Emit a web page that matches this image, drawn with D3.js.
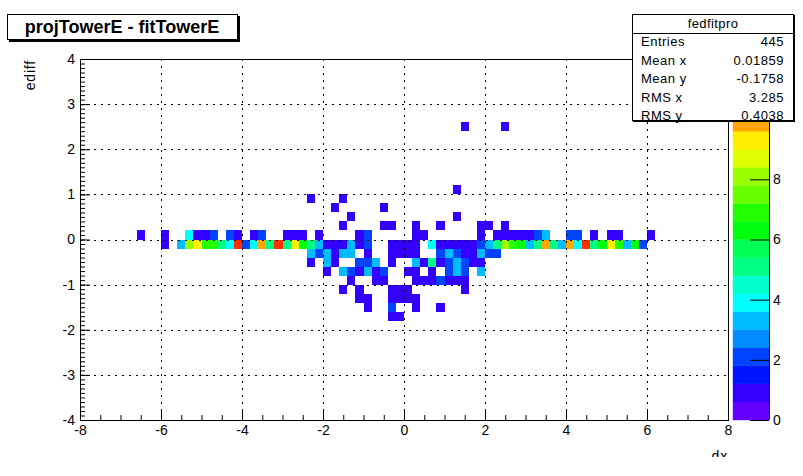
<!DOCTYPE html>
<html lang="en">
<head>
<meta charset="utf-8">
<title>projTowerE - fitTowerE</title>
<script src="https://cdn.jsdelivr.net/npm/d3@7"></script>
<style>
  body { margin: 0; background: #fff; }
  svg { display: block; font-family: "Liberation Sans", Arial, Helvetica, sans-serif; }
  .axis path.domain { display: none; }
  .axis line { stroke: #000; }
  .axis text { font-size: 14px; fill: #000; }
</style>
</head>
<body>
<script>
// ---- data (bin centres, bin width 0.2 x 0.2) ------------------------------
// sparse cells above the zero band: [x, y, count]
const upperCells = [
  [1.5, 2.5, 1], [2.5, 2.5, 1],
  [1.3, 1.1, 1],
  [-2.3, 0.9, 1], [-1.5, 0.9, 1],
  [-1.7, 0.7, 1], [-0.5, 0.7, 1],
  [-1.3, 0.5, 1], [1.3, 0.5, 1],
  [-1.5, 0.3, 1], [-0.5, 0.3, 1], [-0.3, 0.3, 1], [0.3, 0.3, 1],
  [0.9, 0.3, 1], [1.9, 0.3, 1], [2.1, 0.3, 1], [2.5, 0.3, 1]
];
// row 0 .. 0.2 : [x, count]
const rowAboveZero = [
  [-6.5, 1], [-5.9, 1], [-5.3, 4], [-5.1, 1], [-4.9, 1], [-4.7, 2], [-4.3, 2],
  [-4.1, 1], [-3.7, 1], [-3.5, 2], [-2.9, 1], [-2.7, 1], [-2.5, 1], [-2.1, 1],
  [-1.1, 1], [-0.9, 2], [0.3, 1], [0.5, 1], [1.9, 1], [2.3, 1], [2.5, 1],
  [2.7, 1], [2.9, 1], [3.1, 1], [3.3, 2], [3.5, 3], [4.1, 2], [4.3, 2],
  [4.7, 1], [5.1, 1], [5.3, 1], [6.1, 1]
];
// row -0.2 .. 0 : [x, count]
const rowBelowZero = [
  [-5.9, 1], [-5.5, 3], [-5.3, 8], [-5.1, 9], [-4.9, 7], [-4.7, 7], [-4.5, 5],
  [-4.3, 4], [-4.1, 11], [-3.9, 2], [-3.7, 4], [-3.5, 10], [-3.3, 5], [-3.1, 11],
  [-2.9, 5], [-2.7, 9], [-2.5, 6], [-2.3, 5], [-2.1, 3], [-1.9, 1], [-1.7, 1],
  [-1.5, 1], [-1.3, 3], [-1.1, 1], [-0.9, 2], [-0.3, 1], [-0.1, 1], [0.1, 1],
  [0.3, 1], [0.7, 4], [0.9, 1], [1.1, 1], [1.3, 1], [1.5, 1], [1.7, 1],
  [1.9, 2], [2.1, 3], [2.3, 5], [2.5, 8], [2.7, 7], [2.9, 6], [3.1, 3],
  [3.3, 5], [3.5, 10], [3.7, 5], [3.9, 3], [4.1, 10], [4.3, 4], [4.5, 11],
  [4.7, 5], [4.9, 6], [5.1, 9], [5.3, 7], [5.5, 3], [5.7, 6], [5.9, 2]
];
// sparse cells below the zero band: [x, y, count]
const lowerCells = [
  [-2.3, -0.3, 3], [-2.1, -0.3, 2], [-1.9, -0.3, 3], [-1.7, -0.3, 1], [-1.5, -0.3, 3],
  [-1.3, -0.3, 3], [-0.9, -0.3, 1], [-0.3, -0.3, 1], [-0.1, -0.3, 1], [0.1, -0.3, 1],
  [0.3, -0.3, 1], [0.9, -0.3, 2], [1.1, -0.3, 3], [1.3, -0.3, 2], [1.5, -0.3, 1],
  [1.7, -0.3, 1], [1.9, -0.3, 3], [2.1, -0.3, 2], [2.3, -0.3, 2],
  [-2.3, -0.5, 1], [-1.9, -0.5, 3], [-1.7, -0.5, 1], [-1.1, -0.5, 2], [-0.9, -0.5, 2],
  [-0.7, -0.5, 3], [-0.3, -0.5, 1], [0.3, -0.5, 3], [0.5, -0.5, 1], [0.7, -0.5, 5],
  [0.9, -0.5, 1], [1.1, -0.5, 2], [1.3, -0.5, 3], [1.5, -0.5, 2], [1.7, -0.5, 1], [1.9, -0.5, 1],
  [-1.9, -0.7, 1], [-1.5, -0.7, 3], [-1.3, -0.7, 2], [-1.1, -0.7, 1], [-0.9, -0.7, 3],
  [-0.7, -0.7, 1], [-0.5, -0.7, 2], [0.1, -0.7, 1], [0.3, -0.7, 1], [0.7, -0.7, 1],
  [1.1, -0.7, 2], [1.3, -0.7, 3], [1.5, -0.7, 2], [1.9, -0.7, 3],
  [-1.3, -0.9, 1], [-0.7, -0.9, 1], [-0.5, -0.9, 1], [0.3, -0.9, 1], [0.5, -0.9, 1],
  [0.7, -0.9, 1], [0.9, -0.9, 2], [1.1, -0.9, 1], [1.3, -0.9, 1], [1.5, -0.9, 1],
  [-1.5, -1.1, 1], [-1.1, -1.1, 1], [-0.3, -1.1, 1], [-0.1, -1.1, 1], [0.1, -1.1, 1], [1.5, -1.1, 1],
  [-1.1, -1.3, 1], [-0.9, -1.3, 1], [-0.3, -1.3, 1], [-0.1, -1.3, 1], [0.1, -1.3, 1], [0.3, -1.3, 1],
  [-0.9, -1.5, 1], [-0.3, -1.5, 2], [0.3, -1.5, 1], [0.9, -1.5, 1],
  [-0.3, -1.7, 1], [-0.1, -1.7, 1]
];

const xTicks = [-8, -6, -4, -2, 0, 2, 4, 6, 8];
const yTicks = [-4, -3, -2, -1, 0, 1, 2, 3, 4];
const zTicks = [0, 2, 4, 6, 8];
const statLabels = ["Entries", "Mean x", "Mean y", "RMS x", "RMS y"];
const statValues = ["445", "0.01859", "-0.1758", "3.285", "0.4038"];

// ---- scales -----------------------------------------------------------------
const W = 803, H = 476;
const binW = 0.2;
const x = d3.scaleLinear().domain([-8, 8]).range([80, 728]);
const y = d3.scaleLinear().domain([-4, 4]).range([420, 59]);
const z = d3.scaleLinear().domain([0, 12]).range([420, 59]);
const nLevels = 20;
const zLevel = d3.scaleQuantize().domain([0, 12]).range(d3.range(nLevels));

// old ROOT "pretty" palette: 50 hues from violet to red
function levelColor(level) {
  const ci = Math.floor((level + 0.99) * 50 / nLevels);
  return d3.hsl(280 - (ci + 1) * 5.6, 1, 0.5).formatRgb();
}

const cells = []
  .concat(upperCells)
  .concat(rowAboveZero.map(d => [d[0], 0.1, d[1]]))
  .concat(rowBelowZero.map(d => [d[0], -0.1, d[1]]))
  .concat(lowerCells);

const svg = d3.select("body").append("svg")
  .attr("width", W).attr("height", H);

svg.append("rect").attr("width", W).attr("height", H).attr("fill", "#fff");

// ---- cells ------------------------------------------------------------------
svg.append("g").selectAll("rect")
  .data(cells)
  .join("rect")
    .attr("x", d => Math.round(x(d[0] - binW / 2)))
    .attr("y", d => Math.round(y(d[1] + binW / 2)))
    .attr("width", d => Math.round(x(d[0] + binW / 2)) - Math.round(x(d[0] - binW / 2)))
    .attr("height", d => Math.round(y(d[1] - binW / 2)) - Math.round(y(d[1] + binW / 2)))
    .attr("fill", d => levelColor(zLevel(d[2])))
    .attr("shape-rendering", "crispEdges");

// ---- grid -------------------------------------------------------------------
const grid = svg.append("g")
  .attr("stroke", "#000").attr("stroke-dasharray", "2,5")
  .attr("shape-rendering", "crispEdges");
grid.selectAll(".gx")
  .data(xTicks.filter(t => t > -8 && t < 8))
  .join("line")
    .attr("x1", d => x(d) + 0.5).attr("x2", d => x(d) + 0.5)
    .attr("y1", y(4)).attr("y2", y(-4));
grid.selectAll(".gy")
  .data(yTicks.filter(t => t > -4 && t < 4))
  .join("line")
    .attr("y1", d => y(d) + 0.5).attr("y2", d => y(d) + 0.5)
    .attr("x1", x(-8)).attr("x2", x(8));

// ---- axes -------------------------------------------------------------------
const xMinor = d3.range(-8, 8.01, 0.5);
const yMinor = d3.range(-4, 4.01, 0.1);

svg.append("g").attr("class", "axis")
  .attr("transform", "translate(0," + y(-4) + ")")
  .call(d3.axisBottom(x).tickValues(xMinor).tickSize(-5).tickFormat(""));
svg.append("g").attr("class", "axis")
  .attr("transform", "translate(0," + y(-4) + ")")
  .call(d3.axisBottom(x).tickValues(xTicks).tickSize(-11).tickPadding(5).tickFormat(d3.format("d")));

svg.append("g").attr("class", "axis")
  .attr("transform", "translate(" + x(-8) + ",0)")
  .call(d3.axisLeft(y).tickValues(yMinor).tickSize(-5).tickFormat(""));
svg.append("g").attr("class", "axis")
  .attr("transform", "translate(" + x(-8) + ",0)")
  .call(d3.axisLeft(y).tickValues(yTicks).tickSize(-10).tickPadding(5).tickFormat(d3.format("d")));

svg.selectAll(".axis text").text(function() { return this.textContent.replace("\u2212", "-"); });

// frame
svg.append("rect")
  .attr("x", x(-8) + 0.5).attr("y", y(4) + 0.5)
  .attr("width", x(8) - x(-8)).attr("height", y(-4) - y(4))
  .attr("fill", "none").attr("stroke", "#000");

// axis titles
svg.append("text")
  .attr("transform", "translate(35," + (y(4) + 1) + ") rotate(-90)")
  .attr("text-anchor", "end").attr("font-size", 14).attr("letter-spacing", 0.8)
  .text("ediff");

svg.append("clipPath").attr("id", "cut")
  .append("rect").attr("x", 0).attr("y", 0).attr("width", W).attr("height", 457);
svg.append("text")
  .attr("clip-path", "url(#cut)")
  .attr("x", x(8)).attr("y", 461)
  .attr("text-anchor", "end").attr("font-size", 14).attr("letter-spacing", 0.8)
  .text("dx");

// ---- palette ----------------------------------------------------------------
const pal = svg.append("g");
pal.selectAll("rect")
  .data(d3.range(nLevels))
  .join("rect")
    .attr("x", 733).attr("width", 36)
    .attr("y", d => z((d + 1) * 12 / nLevels))
    .attr("height", d => z(d * 12 / nLevels) - z((d + 1) * 12 / nLevels))
    .attr("fill", d => levelColor(d))
    .attr("stroke", d => levelColor(d)).attr("stroke-width", 0.4);

svg.append("g").attr("class", "axis")
  .attr("transform", "translate(769,0)")
  .call(d3.axisRight(z).tickValues(zTicks).tickSize(-19).tickPadding(4).tickFormat(d3.format("d")));
svg.append("line")
  .attr("x1", 769.5).attr("x2", 769.5).attr("y1", z(12)).attr("y2", z(0))
  .attr("stroke", "#000");

// ---- title box --------------------------------------------------------------
svg.append("rect").attr("x", 9).attr("y", 16).attr("width", 231).attr("height", 26).attr("fill", "#000");
svg.append("rect").attr("x", 7.5).attr("y", 14.5).attr("width", 230).attr("height", 25)
  .attr("fill", "#fff").attr("stroke", "#000");
svg.append("text")
  .attr("x", 122).attr("y", 33)
  .attr("text-anchor", "middle").attr("font-size", 18).attr("font-weight", "bold")
  .text("projTowerE - fitTowerE");

// ---- stats box --------------------------------------------------------------
svg.append("rect").attr("x", 633).attr("y", 15).attr("width", 162).attr("height", 107).attr("fill", "#000");
svg.append("rect").attr("x", 632.5).attr("y", 14.5).attr("width", 161).attr("height", 106)
  .attr("fill", "#fff").attr("stroke", "#000");
svg.append("line").attr("x1", 632).attr("x2", 794).attr("y1", 33.5).attr("y2", 33.5).attr("stroke", "#000");
svg.append("text")
  .attr("x", 713).attr("y", 28).attr("text-anchor", "middle")
  .attr("font-size", 13).attr("letter-spacing", 0.4)
  .text("fedfitpro");

const rowBase = d3.scalePoint().domain(statLabels).range([46, 120]);
svg.append("g").selectAll("text")
  .data(statLabels)
  .join("text")
    .attr("x", 641).attr("y", d => rowBase(d))
    .attr("font-size", 13).attr("letter-spacing", 0.5)
    .text(d => d);
svg.append("g").selectAll("text")
  .data(statValues)
  .join("text")
    .attr("x", 784).attr("y", (d, i) => rowBase(statLabels[i]))
    .attr("text-anchor", "end").attr("font-size", 13).attr("letter-spacing", 0.5)
    .text(d => d);
</script>
</body>
</html>
